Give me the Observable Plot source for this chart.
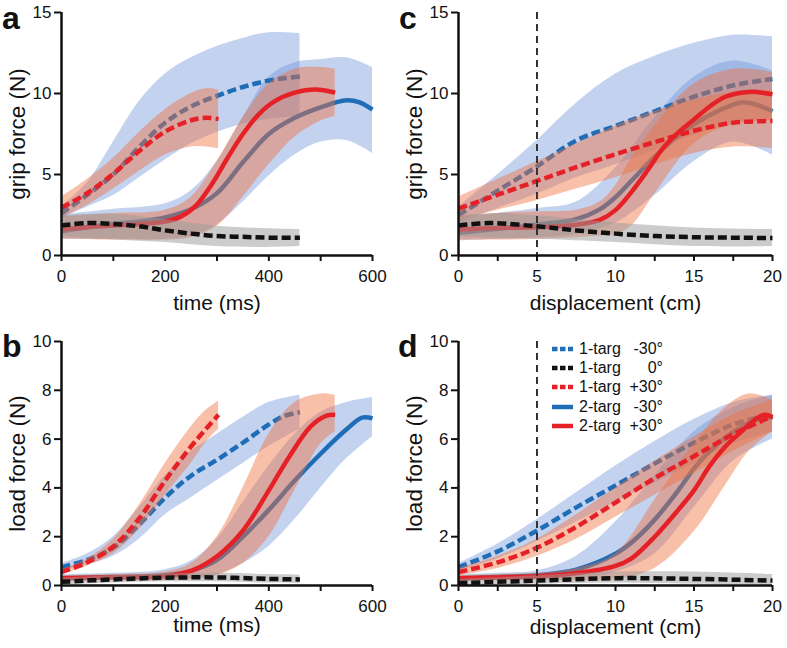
<!DOCTYPE html>
<html>
<head>
<meta charset="utf-8">
<script src="https://cdn.jsdelivr.net/npm/d3@7"></script>
<script src="https://cdn.jsdelivr.net/npm/@observablehq/plot@0.6"></script>
<style>
  html, body { margin: 0; padding: 0; background: #fff; }
  #root { position: relative; width: 787px; height: 648px; font-family: "Liberation Sans", Arial, Helvetica, sans-serif; color: #111; }
  .panel { position: absolute; }
  .letter { position: absolute; font-weight: bold; font-size: 32px; line-height: normal; }
  .legend { position: absolute; left: 552px; top: 339px; font-size: 16px; }
  .legend .row { display: flex; align-items: center; height: 19.3px; }
  .legend .row svg { width: 21px; height: 8px; margin-right: 6px; }
  .legend .name { width: 42px; }
  .legend .ang { width: 42px; text-align: right; }
</style>
</head>
<body>
<div id="root"></div>
<script>
// ---------- series (legend) ----------
const seriesNames = ["1-targ", "1-targ", "1-targ", "2-targ", "2-targ"];
const seriesAngles = ["-30°", "0°", "+30°", "-30°", "+30°"];

// ---------- panel a: grip force vs time (ms) ----------  rows: [x, mean]  bands: [x, lo, hi]
const aMean_1m30 = [[0,2.6],[50,3.75],[100,5.0],[150,6.7],[200,8.2],[250,9.2],[300,9.85],[350,10.4],[400,10.8],[460,11.05]];
const aBand_1m30 = [[0,2.3,3.0],[50,3.0,4.5],[100,3.7,7.0],[150,4.8,9.5],[200,5.9,11.2],[250,6.9,12.2],[300,7.6,12.9],[350,8.1,13.4],[400,8.4,13.75],[460,8.6,13.7]];
const aMean_10 = [[0,1.85],[50,2.0],[100,1.95],[150,1.8],[200,1.55],[250,1.35],[300,1.2],[350,1.15],[400,1.1],[460,1.1]];
const aBand_10 = [[0,1.15,2.45],[100,0.95,2.55],[200,0.8,2.2],[300,0.55,1.8],[400,0.5,1.65],[460,0.55,1.6]];
const aMean_1p30 = [[0,2.95],[50,3.85],[100,5.05],[150,6.45],[200,7.65],[250,8.35],[280,8.5],[303,8.42]];
const aBand_1p30 = [[0,2.3,3.6],[50,3.1,4.7],[100,4.1,6.0],[150,5.2,7.6],[200,6.2,9.0],[250,6.7,10.0],[280,6.7,10.3],[303,6.6,10.2]];
const aMean_2m30 = [[0,1.5],[50,1.75],[100,1.95],[150,2.1],[200,2.35],[250,2.85],[300,3.85],[350,5.75],[400,7.5],[450,8.5],[500,9.15],[550,9.58],[575,9.45],[600,9.0]];
const aBand_2m30 = [[0,1.0,2.5],[100,1.0,2.85],[200,1.0,3.2],[250,1.2,4.0],[300,1.9,5.8],[350,3.3,8.5],[400,4.9,11.0],[450,6.2,11.9],[500,7.0,12.1],[550,7.1,12.2],[600,6.3,11.6]];
const aMean_2p30 = [[0,1.6],[50,1.75],[100,1.85],[150,1.95],[200,2.1],[230,2.4],[260,3.1],[290,4.4],[320,6.0],[350,7.5],[380,8.7],[410,9.5],[450,10.05],[490,10.25],[528,10.05]];
const aBand_2p30 = [[0,1.0,2.4],[100,0.95,2.6],[200,0.95,2.8],[250,1.1,3.6],[300,1.8,5.8],[350,3.6,8.5],[400,5.6,10.6],[450,7.3,11.5],[500,8.3,11.6],[528,8.6,11.5]];

// ---------- panel b: load force vs time (ms) ----------
const bMean_1m30 = [[0,0.75],[50,1.05],[100,1.55],[150,2.5],[200,3.6],[250,4.5],[300,5.15],[350,5.85],[400,6.6],[430,6.95],[460,7.1]];
const bBand_1m30 = [[0,0.6,0.9],[50,0.85,1.3],[100,1.2,2.0],[150,1.9,3.2],[200,2.9,4.5],[250,3.6,5.5],[300,4.3,6.2],[350,5.0,6.9],[400,5.7,7.5],[460,6.4,7.8]];
const bMean_10 = [[0,0.15],[100,0.25],[200,0.32],[300,0.33],[400,0.27],[460,0.25]];
const bBand_10 = [[0,0.02,0.3],[100,0.1,0.4],[200,0.15,0.47],[300,0.15,0.5],[400,0.1,0.45],[460,0.08,0.43]];
const bMean_1p30 = [[0,0.55],[50,0.95],[100,1.6],[150,2.75],[200,4.3],[250,5.7],[280,6.45],[303,7.0]];
const bBand_1p30 = [[0,0.45,0.65],[50,0.8,1.1],[100,1.3,1.9],[150,2.3,3.3],[200,3.7,5.0],[250,5.0,6.5],[280,5.9,7.2],[303,6.4,7.55]];
const bMean_2m30 = [[0,0.3],[100,0.35],[200,0.42],[250,0.6],[300,1.05],[350,2.0],[400,3.1],[450,4.3],[500,5.4],[550,6.4],[580,6.88],[600,6.85]];
const bBand_2m30 = [[0,0.15,0.45],[100,0.2,0.5],[200,0.25,0.65],[250,0.3,1.0],[300,0.45,1.9],[350,0.9,3.4],[400,1.6,4.9],[450,2.7,6.2],[500,4.0,7.1],[550,5.2,7.5],[600,6.1,7.7]];
const bMean_2p30 = [[0,0.3],[100,0.33],[200,0.38],[250,0.6],[300,1.2],[350,2.25],[400,3.9],[440,5.3],[480,6.5],[510,6.95],[528,7.0]];
const bBand_2p30 = [[0,0.2,0.4],[100,0.2,0.45],[200,0.2,0.55],[250,0.25,0.9],[300,0.4,2.0],[350,0.9,4.0],[400,2.0,6.2],[450,3.9,7.5],[500,5.8,7.85],[528,6.3,7.8]];

// ---------- panel c: grip force vs displacement (cm) ----------
const cMean_1m30 = [[0,2.5],[2.5,4.0],[5,5.5],[7.5,7.1],[10,8.0],[12.5,8.9],[15,9.8],[17.5,10.5],[20,10.9]];
const cBand_1m30 = [[0,2.0,3.0],[2.5,2.9,5.0],[5,3.8,7.1],[7.5,4.8,9.4],[10,5.6,11.2],[12.5,6.5,12.3],[15,7.4,13.1],[17.5,8.1,13.6],[20,8.4,13.5]];
const cMean_10 = [[0,1.85],[2,2.0],[5,1.8],[7.5,1.55],[10,1.35],[12.5,1.2],[15,1.13],[17.5,1.1],[20,1.08]];
const cBand_10 = [[0,1.15,2.45],[2.5,1.05,2.6],[5,1.0,2.45],[10,0.8,2.0],[15,0.55,1.7],[20,0.55,1.6]];
const cMean_1p30 = [[0,2.9],[2.5,3.75],[5,4.6],[7.5,5.45],[10,6.25],[12.5,7.0],[15,7.7],[17.5,8.2],[20,8.3]];
const cBand_1p30 = [[0,2.2,3.6],[2.5,2.8,4.7],[5,3.4,5.8],[7.5,4.1,6.9],[10,4.8,8.0],[12.5,5.6,8.9],[15,6.3,9.6],[17.5,6.7,10.1],[20,6.6,10.2]];
const cMean_2m30 = [[0,1.4],[2.5,1.65],[5,1.9],[7.5,2.25],[9,2.85],[10,3.6],[11,4.6],[12.5,6.1],[14,7.4],[15,8.1],[16.5,8.9],[18,9.45],[19,9.3],[20,8.9]];
const cBand_2m30 = [[0,0.9,2.3],[2.5,1.0,2.6],[5,1.1,2.9],[7.5,1.3,3.3],[10,2.0,5.4],[12.5,3.7,8.5],[15,5.8,11.0],[17.5,7.0,12.0],[20,6.2,11.4]];
const cMean_2p30 = [[0,1.6],[2.5,1.7],[5,1.75],[7.5,1.9],[9,2.2],[10,2.8],[11,3.9],[12,5.2],[13,6.6],[14,7.6],[15,8.4],[16,9.2],[17,9.8],[18.5,10.1],[20,9.95]];
const cBand_2p30 = [[0,0.95,2.4],[2.5,0.95,2.6],[5,1.0,2.7],[7.5,1.1,2.8],[9,1.2,3.3],[10,1.3,4.3],[11,1.8,6.0],[12.5,3.8,8.0],[15,6.9,10.6],[17.5,8.1,11.5],[20,8.3,11.3]];

// ---------- panel d: load force vs displacement (cm) ----------
const dMean_1m30 = [[0,0.75],[2.5,1.4],[5,2.25],[7.5,3.2],[10,4.1],[12.5,5.0],[15,5.85],[17.5,6.6],[20,7.05]];
const dBand_1m30 = [[0,0.6,0.9],[2.5,1.1,1.7],[5,1.8,2.7],[7.5,2.6,3.8],[10,3.4,4.9],[12.5,4.2,5.9],[15,5.0,6.8],[17.5,5.8,7.5],[20,6.3,7.8]];
const dMean_10 = [[0,0.1],[5,0.2],[10,0.3],[15,0.27],[20,0.2]];
const dBand_10 = [[0,0.0,0.25],[5,0.05,0.4],[10,0.1,0.55],[15,0.05,0.55],[20,0.0,0.45]];
const dMean_1p30 = [[0,0.55],[2.5,0.95],[5,1.55],[7.5,2.4],[10,3.4],[12.5,4.4],[15,5.3],[17.5,6.2],[20,6.95]];
const dBand_1p30 = [[0,0.4,0.7],[2.5,0.7,1.2],[5,1.2,1.9],[7.5,1.9,2.9],[10,2.8,4.0],[12.5,3.7,5.1],[15,4.6,6.1],[17.5,5.5,7.0],[20,6.3,7.6]];
const dMean_2m30 = [[0,0.3],[2.5,0.35],[5,0.42],[7.5,0.65],[10,1.3],[11,1.75],[12.5,2.7],[14,3.9],[15,4.8],[16,5.5],[17.5,6.3],[19,6.8],[20,6.9]];
const dBand_2m30 = [[0,0.15,0.45],[2.5,0.2,0.5],[5,0.25,0.6],[7.5,0.3,1.2],[10,0.55,2.6],[12.5,1.3,4.5],[15,3.2,6.3],[17.5,5.1,7.3],[20,6.0,7.8]];
const dMean_2p30 = [[0,0.3],[2.5,0.33],[5,0.38],[7.5,0.5],[10,0.8],[11,1.1],[12.5,2.0],[14,3.1],[15,3.9],[16,4.9],[17,5.7],[18,6.3],[19,6.85],[19.5,7.0],[20,6.9]];
const dBand_2p30 = [[0,0.2,0.4],[2.5,0.2,0.45],[5,0.2,0.5],[7.5,0.2,0.7],[10,0.25,1.3],[12.5,0.7,3.5],[15,2.2,5.8],[17,4.1,7.3],[18.5,5.5,7.85],[20,6.3,7.6]];

// ---------- ticks ----------
const timeTicks = [0,100,200,300,400,500,600];
const dispTicks = [0,2.5,5,7.5,10,12.5,15,17.5,20];
const gripTicks = [0,5,10,15];
const loadTicks = [0,2,4,6,8,10];
const markerDisp = [5];

// ---------- styles ----------
const BLUE = "#1f6db6", RED = "#e52127", BLACK = "#111";
const BLUE_BAND = "#6f93d8", RED_BAND = "#f07040", GRAY_BAND = "#999";
const DASH = "9,4";
const curve = "catmull-rom";

function bandMark(data, fill, op) {
  return Plot.areaY(data, {x: d => d[0], y1: d => d[1], y2: d => d[2], fill, fillOpacity: op, curve});
}
function lineMark(data, stroke, dashed) {
  return Plot.line(data, {x: d => d[0], y: d => d[1], stroke, strokeWidth: 4.5,
    strokeDasharray: dashed ? DASH : null, strokeLinecap: "butt", curve});
}

function panel(cfg) {
  const s = cfg.series;
  const marks = [
    bandMark(s.band1m30, BLUE_BAND, 0.42),
    bandMark(s.band2m30, BLUE_BAND, 0.42),
    lineMark(s.mean1m30, BLUE, true),
    lineMark(s.mean2m30, BLUE, false),
    bandMark(s.band1p30, RED_BAND, 0.45),
    bandMark(s.band2p30, RED_BAND, 0.45),
    lineMark(s.mean1p30, RED, true),
    lineMark(s.mean2p30, RED, false),
    bandMark(s.band10, GRAY_BAND, 0.5),
    lineMark(s.mean10, BLACK, true)
  ];
  if (cfg.marker) marks.push(Plot.ruleX(cfg.marker, {stroke: "#333", strokeWidth: 2, strokeDasharray: "7,5"}));
  marks.push(
    Plot.ruleX([cfg.xDomain[0]], {stroke: BLACK, strokeWidth: 2.5}),
    Plot.ruleY([cfg.yDomain[0]], {stroke: BLACK, strokeWidth: 2.5}),
    Plot.axisY({ticks: cfg.yTicks, tickSize: 7, tickPadding: 3, strokeWidth: 2,
      fontSize: 17, label: null}),
    Plot.axisX({ticks: cfg.xTicks, tickSize: 6, tickPadding: 8, strokeWidth: 2,
      fontSize: 17, tickFormat: cfg.xFormat, label: null}),
    Plot.text([cfg.xLabel], {frameAnchor: "bottom", dy: cfg.xLabelDy, lineAnchor: "middle", textAnchor: "middle",
      fontSize: 21, fill: BLACK}),
    Plot.text([cfg.yLabel], {frameAnchor: "left", dx: -44, rotate: -90, lineAnchor: "middle", textAnchor: "middle",
      fontSize: 22.5, fill: BLACK})
  );
  return Plot.plot({
    width: cfg.width, height: cfg.height,
    marginLeft: cfg.ml, marginRight: cfg.mr, marginTop: cfg.mt, marginBottom: cfg.mb,
    style: {fontFamily: '"Liberation Sans", Arial, Helvetica, sans-serif', background: "transparent", overflow: "visible", color: BLACK},
    x: {domain: cfg.xDomain},
    y: {domain: cfg.yDomain},
    marks
  });
}

const timeFormat = d => (d % 200 === 0 ? String(d) : "");
const dispFormat = d => (d % 5 === 0 ? String(d) : "");

const panels = [
  {id: "a", left: 0, top: 0, width: 393, height: 320, ml: 61, mr: 21, mt: 12, mb: 65, xLabelDy: 48,
   xDomain: [0, 600], yDomain: [0, 15], xTicks: timeTicks, yTicks: gripTicks, xFormat: timeFormat,
   xLabel: "time (ms)", yLabel: "grip force (N)",
   series: {mean1m30: aMean_1m30, band1m30: aBand_1m30, mean10: aMean_10, band10: aBand_10, mean1p30: aMean_1p30, band1p30: aBand_1p30,
            mean2m30: aMean_2m30, band2m30: aBand_2m30, mean2p30: aMean_2p30, band2p30: aBand_2p30}},
  {id: "c", left: 395, top: 0, width: 392, height: 320, ml: 63, mr: 15, mt: 12, mb: 65, xLabelDy: 48,
   xDomain: [0, 20], yDomain: [0, 15], xTicks: dispTicks, yTicks: gripTicks, xFormat: dispFormat, marker: markerDisp,
   xLabel: "displacement (cm)", yLabel: "grip force (N)",
   series: {mean1m30: cMean_1m30, band1m30: cBand_1m30, mean10: cMean_10, band10: cBand_10, mean1p30: cMean_1p30, band1p30: cBand_1p30,
            mean2m30: cMean_2m30, band2m30: cBand_2m30, mean2p30: cMean_2p30, band2p30: cBand_2p30}},
  {id: "b", left: 0, top: 320, width: 393, height: 328, ml: 61, mr: 21, mt: 21, mb: 63, xLabelDy: 40,
   xDomain: [0, 600], yDomain: [0, 10], xTicks: timeTicks, yTicks: loadTicks, xFormat: timeFormat,
   xLabel: "time (ms)", yLabel: "load force (N)",
   series: {mean1m30: bMean_1m30, band1m30: bBand_1m30, mean10: bMean_10, band10: bBand_10, mean1p30: bMean_1p30, band1p30: bBand_1p30,
            mean2m30: bMean_2m30, band2m30: bBand_2m30, mean2p30: bMean_2p30, band2p30: bBand_2p30}},
  {id: "d", left: 395, top: 320, width: 392, height: 328, ml: 63, mr: 15, mt: 21, mb: 63, xLabelDy: 42,
   xDomain: [0, 20], yDomain: [0, 10], xTicks: dispTicks, yTicks: loadTicks, xFormat: dispFormat, marker: markerDisp,
   xLabel: "displacement (cm)", yLabel: "load force (N)",
   series: {mean1m30: dMean_1m30, band1m30: dBand_1m30, mean10: dMean_10, band10: dBand_10, mean1p30: dMean_1p30, band1p30: dBand_1p30,
            mean2m30: dMean_2m30, band2m30: dBand_2m30, mean2p30: dMean_2p30, band2p30: dBand_2p30}}
];

const root = document.getElementById("root");
for (const p of panels) {
  const div = document.createElement("div");
  div.className = "panel";
  div.style.left = p.left + "px";
  div.style.top = p.top + "px";
  div.appendChild(panel(p));
  root.appendChild(div);
}

// panel letters
const letterPos = {a: [2, 0], b: [2, 328], c: [399, 0], d: [398, 328]};
for (const [k, [x, y]] of Object.entries(letterPos)) {
  const el = document.createElement("div");
  el.className = "letter";
  el.style.left = x + "px";
  el.style.top = y + "px";
  el.textContent = k;
  root.appendChild(el);
}

// legend (in panel d)
const legendColors = [BLUE, BLACK, RED, BLUE, RED];
const legendDashed = [true, true, true, false, false];
const legend = document.createElement("div");
legend.className = "legend";
seriesNames.forEach((name, i) => {
  const row = document.createElement("div");
  row.className = "row";
  const dash = legendDashed[i] ? 'stroke-dasharray="5.5,2.5"' : "";
  row.innerHTML = `<svg viewBox="0 0 21 8"><line x1="0" y1="4" x2="21" y2="4" stroke="${legendColors[i]}" stroke-width="4.5" ${dash}/></svg>` +
    `<span class="name">${name}</span><span class="ang">${seriesAngles[i]}</span>`;
  legend.appendChild(row);
});
root.appendChild(legend);
</script>
</body>
</html>
